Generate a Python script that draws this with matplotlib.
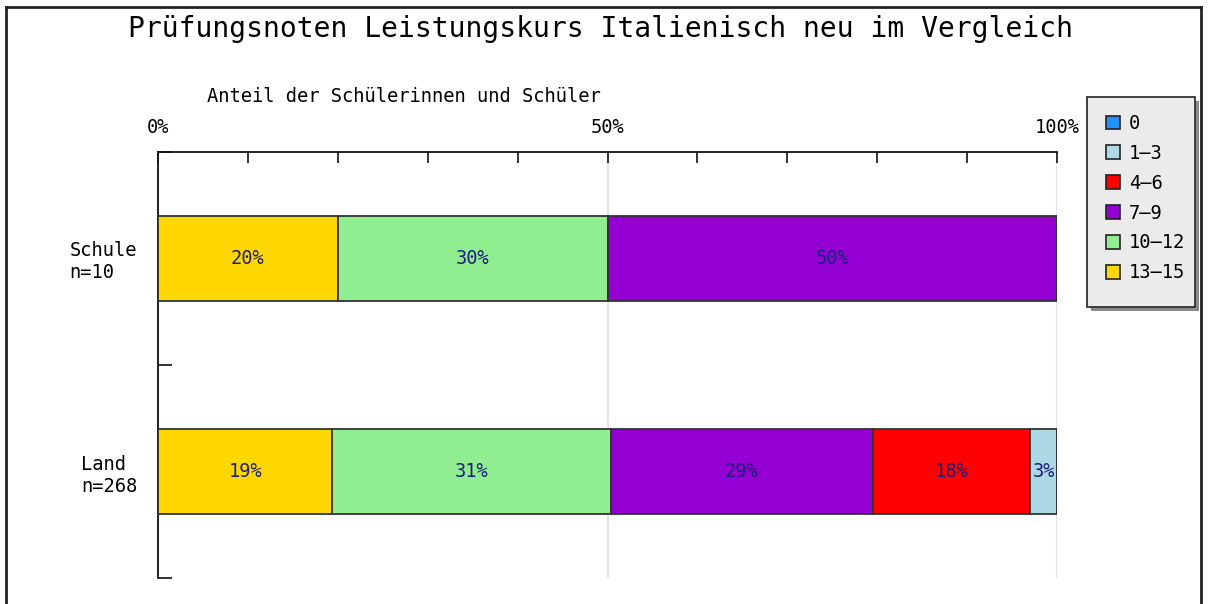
import matplotlib
matplotlib.use("Agg")
import matplotlib.pyplot as plt
from matplotlib.lines import Line2D
from matplotlib.patches import Patch, Rectangle

# Data (percent of students)
groups = ["Schule\nn=10", "Land\nn=268"]
grades = ["13–15", "10–12", "7–9", "4–6", "1–3", "0"]
values = {
    "13–15": [20, 19.4],
    "10–12": [30, 31.0],
    "7–9": [50, 29.1],
    "4–6": [0, 17.5],
    "1–3": [0, 3.0],
    "0": [0, 0],
}
colors = {
    "0": "#1e90ff",
    "1–3": "#add8e6",
    "4–6": "#ff0000",
    "7–9": "#9400d3",
    "10–12": "#90ee90",
    "13–15": "#ffd700",
}
title = "Prüfungsnoten Leistungskurs Italienisch neu im Vergleich"
xlabel = "Anteil der Schülerinnen und Schüler"
xtick_vals = [0, 50, 100]
xtick_labels = ["0%", "50%", "100%"]

FONT = "DejaVu Sans Mono"
plt.rcParams["font.family"] = [FONT]
FS = 13.5

fig = plt.figure(figsize=(12.08, 6.04), dpi=100)
W, H = 1208, 604
ax = fig.add_axes([158 / W, 1 - 578 / H, (1057 - 158) / W, (578 - 152) / H])

ypos = [0.5, 1.5]
left = [0, 0]
for g in grades:
    vals = values[g]
    bars = ax.barh(ypos, vals, left=left, height=0.4, color=colors[g],
                   edgecolor="#333333", linewidth=1.3, zorder=3)
    labels = [f"{round(v + 1e-9)}%" if v > 0 else "" for v in vals]
    ax.bar_label(bars, labels=labels, label_type="center", color="#1f1f7a",
                 fontsize=FS, zorder=4)
    left = [l + v for l, v in zip(left, vals)]

ax.set_xlim(0, 100)
ax.set_ylim(2, 0)

# top x axis
ax.xaxis.tick_top()
ax.set_xticks(xtick_vals)
ax.set_xticklabels(xtick_labels, fontsize=FS)
ax.set_xticks(range(0, 101, 10), minor=True)
ax.tick_params(axis="x", which="both", direction="in", length=8, width=1.2,
               color="#111111", pad=11, top=True, bottom=False)
ax.grid(axis="x", which="major", color="#e3e3e3", linewidth=1.5, zorder=0)

# y axis
ax.set_yticks(ypos)
ax.set_yticklabels(groups, fontsize=FS)
for t in ax.get_yticklabels():
    t.set_multialignment("left")
ax.set_yticks([0, 1, 2], minor=True)
ax.tick_params(axis="y", which="major", length=0, pad=15)
ax.tick_params(axis="y", which="minor", direction="in", length=10, width=1.2,
               color="#111111")

for s in ["right", "bottom"]:
    ax.spines[s].set_visible(False)
for s in ["top", "left"]:
    ax.spines[s].set_color("#111111")
    ax.spines[s].set_linewidth(1.3)

# texts
fig.text(600 / W, 1 - 29 / H, title, ha="center", va="center", fontsize=20.2)
fig.text(207 / W, 1 - 97 / H, xlabel, ha="left", va="center", fontsize=FS)

# legend box (frame + shadow)
lx0, ly0, lx1, ly1 = 1087, 97, 1195, 307
fig.add_artist(Rectangle(((lx0 + 4) / W, 1 - (ly1 + 4) / H), (lx1 - lx0) / W,
                         (ly1 - ly0) / H, facecolor="#8a8a8a", edgecolor="none",
                         transform=fig.transFigure, zorder=1))
fig.add_artist(Rectangle((lx0 / W, 1 - ly1 / H), (lx1 - lx0) / W, (ly1 - ly0) / H,
                         facecolor="#ebebeb", edgecolor="#333333", linewidth=1.3,
                         transform=fig.transFigure, zorder=2))

order = ["0", "1–3", "4–6", "7–9", "10–12", "13–15"]
handles = [Patch(facecolor=colors[g], edgecolor="#222222", linewidth=1.2) for g in order]
leg = fig.legend(handles, order, loc="upper left",
                 bbox_to_anchor=(1106 / W, 1 - 114 / H), fontsize=FS,
                 frameon=False,
                 handlelength=0.75, handleheight=0.75, handletextpad=0.48,
                 labelspacing=0.58, borderpad=0, borderaxespad=0)
leg.set_zorder(3)

# outer frame
fig.add_artist(Line2D([6 / W, 6 / W], [0, 1 - 7 / H], color="#222222", lw=2))
fig.add_artist(Line2D([6 / W, 1201 / W], [1 - 7 / H, 1 - 7 / H], color="#222222", lw=2))
fig.add_artist(Line2D([1201 / W, 1201 / W], [0, 1 - 7 / H], color="#222222", lw=2))

fig.savefig("out.png", dpi=100)
